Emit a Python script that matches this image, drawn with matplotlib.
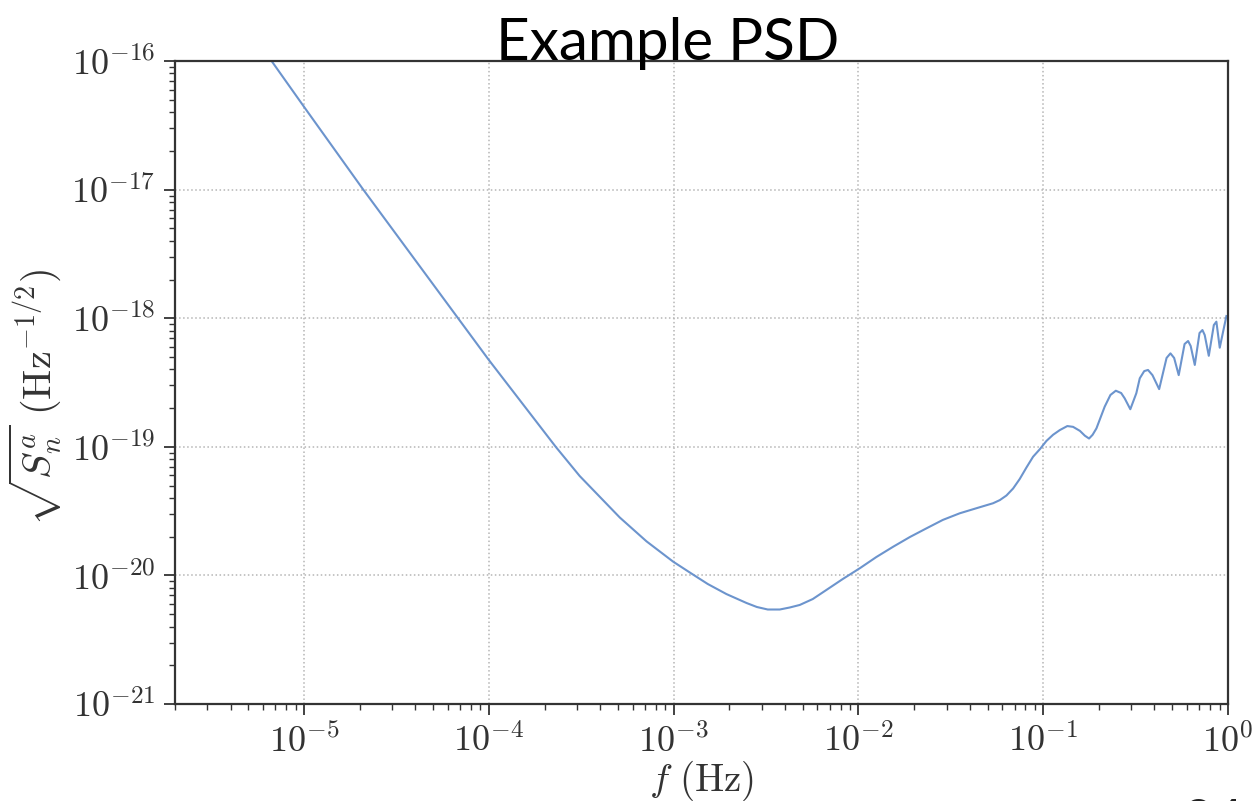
import numpy as np
import matplotlib
matplotlib.use("Agg")
import matplotlib.pyplot as plt
from matplotlib.ticker import LogLocator, FuncFormatter, NullFormatter

freq = [6.67e-6, 1.01e-5, 2.08e-5, 6.81e-5, 1.00e-4, 2.30e-4, 3.10e-4, 5.11e-4,
        7.13e-4, 9.93e-4, 1.24e-3, 1.53e-3, 1.93e-3, 2.48e-3, 2.82e-3, 3.23e-3,
        3.75e-3, 4.25e-3, 4.81e-3, 5.66e-3, 6.71e-3, 8.22e-3, 1.02e-2, 1.25e-2,
        1.54e-2, 1.90e-2, 2.33e-2, 2.86e-2, 3.53e-2, 4.35e-2, 5.35e-2, 5.82e-2,
        6.32e-2, 6.87e-2, 7.46e-2, 8.11e-2, 8.81e-2, 9.58e-2, 0.104, 0.113,
        0.123, 0.135, 0.145, 0.158, 0.168, 0.177, 0.185, 0.194, 0.215, 0.231,
        0.247, 0.264, 0.276, 0.296, 0.319, 0.333, 0.352, 0.369, 0.390, 0.424,
        0.465, 0.488, 0.511, 0.541, 0.582, 0.608, 0.628, 0.661, 0.701, 0.727,
        0.748, 0.787, 0.838, 0.865, 0.902, 0.980]
asd = [1.00e-16, 4.31e-17, 1.01e-17, 1.00e-18, 4.73e-19, 1.00e-19, 5.93e-20, 2.82e-20,
       1.84e-20, 1.28e-20, 1.04e-20, 8.57e-21, 7.16e-21, 6.10e-21, 5.68e-21, 5.43e-21,
       5.43e-21, 5.63e-21, 5.89e-21, 6.55e-21, 7.71e-21, 9.37e-21, 1.14e-20, 1.39e-20,
       1.67e-20, 1.99e-20, 2.32e-20, 2.70e-20, 3.04e-20, 3.33e-20, 3.64e-20, 3.85e-20,
       4.18e-20, 4.74e-20, 5.62e-20, 6.90e-20, 8.37e-20, 9.57e-20, 1.11e-19, 1.24e-19,
       1.35e-19, 1.45e-19, 1.43e-19, 1.33e-19, 1.22e-19, 1.16e-19, 1.24e-19, 1.39e-19,
       2.05e-19, 2.53e-19, 2.73e-19, 2.62e-19, 2.38e-19, 1.96e-19, 2.61e-19, 3.41e-19,
       3.88e-19, 3.96e-19, 3.61e-19, 2.81e-19, 4.91e-19, 5.33e-19, 4.91e-19, 3.61e-19,
       6.30e-19, 6.65e-19, 6.08e-19, 4.33e-19, 7.67e-19, 8.09e-19, 7.40e-19, 5.10e-19,
       8.85e-19, 9.40e-19, 5.90e-19, 1.04e-18]

plt.rcParams["mathtext.fontset"] = "cm"
plt.rcParams["font.family"] = ["DejaVu Serif"]

fig = plt.figure(figsize=(12.55, 8.01), dpi=100)
ax = fig.add_axes([0.1394, 0.1211, 0.8391, 0.8027])

ax.loglog(freq, asd, color="#6c94cd", lw=1.5, solid_joinstyle="round")

ax.set_xlim(2e-6, 1)
ax.set_ylim(1e-21, 1e-16)

ax.xaxis.set_major_locator(LogLocator(base=10, numticks=20))
ax.yaxis.set_major_locator(LogLocator(base=10, numticks=20))
ax.xaxis.set_minor_locator(LogLocator(base=10, subs=np.arange(2, 10), numticks=20))
ax.yaxis.set_minor_locator(LogLocator(base=10, subs=np.arange(2, 10), numticks=20))
expfmt = FuncFormatter(lambda v, p: r"$10^{%d}$" % int(round(np.log10(v))))
ax.xaxis.set_major_formatter(expfmt)
ax.yaxis.set_major_formatter(expfmt)
ax.xaxis.set_minor_formatter(NullFormatter())
ax.yaxis.set_minor_formatter(NullFormatter())

ax.tick_params(which="major", length=8, width=1.3, colors="#333333", labelsize=26, pad=6)
ax.tick_params(which="minor", length=4.5, width=1.0, colors="#333333")
for s in ax.spines.values():
    s.set_linewidth(1.6)
    s.set_color("#333333")

ax.grid(True, which="major", ls=":", color="#b5b5b5", lw=1.1)

ax.set_xlabel(r"$f\ (\mathrm{Hz})$", fontsize=28, color="#333333", labelpad=0)
ax.set_ylabel(r"$\sqrt{S_n^a}\ (\mathrm{Hz}^{-1/2})$", fontsize=29, color="#333333")
ax.yaxis.set_label_coords(-0.105, 0.477)

fig.text(0.532, 0.925, "Example PSD", family="Lato", fontsize=42,
         ha="center", va="baseline", color="black")
fig.text(0.942, -0.045, "24", family="Lato", fontsize=38,
         ha="left", va="baseline", color="#222222")

fig.savefig("out.png", dpi=100)
